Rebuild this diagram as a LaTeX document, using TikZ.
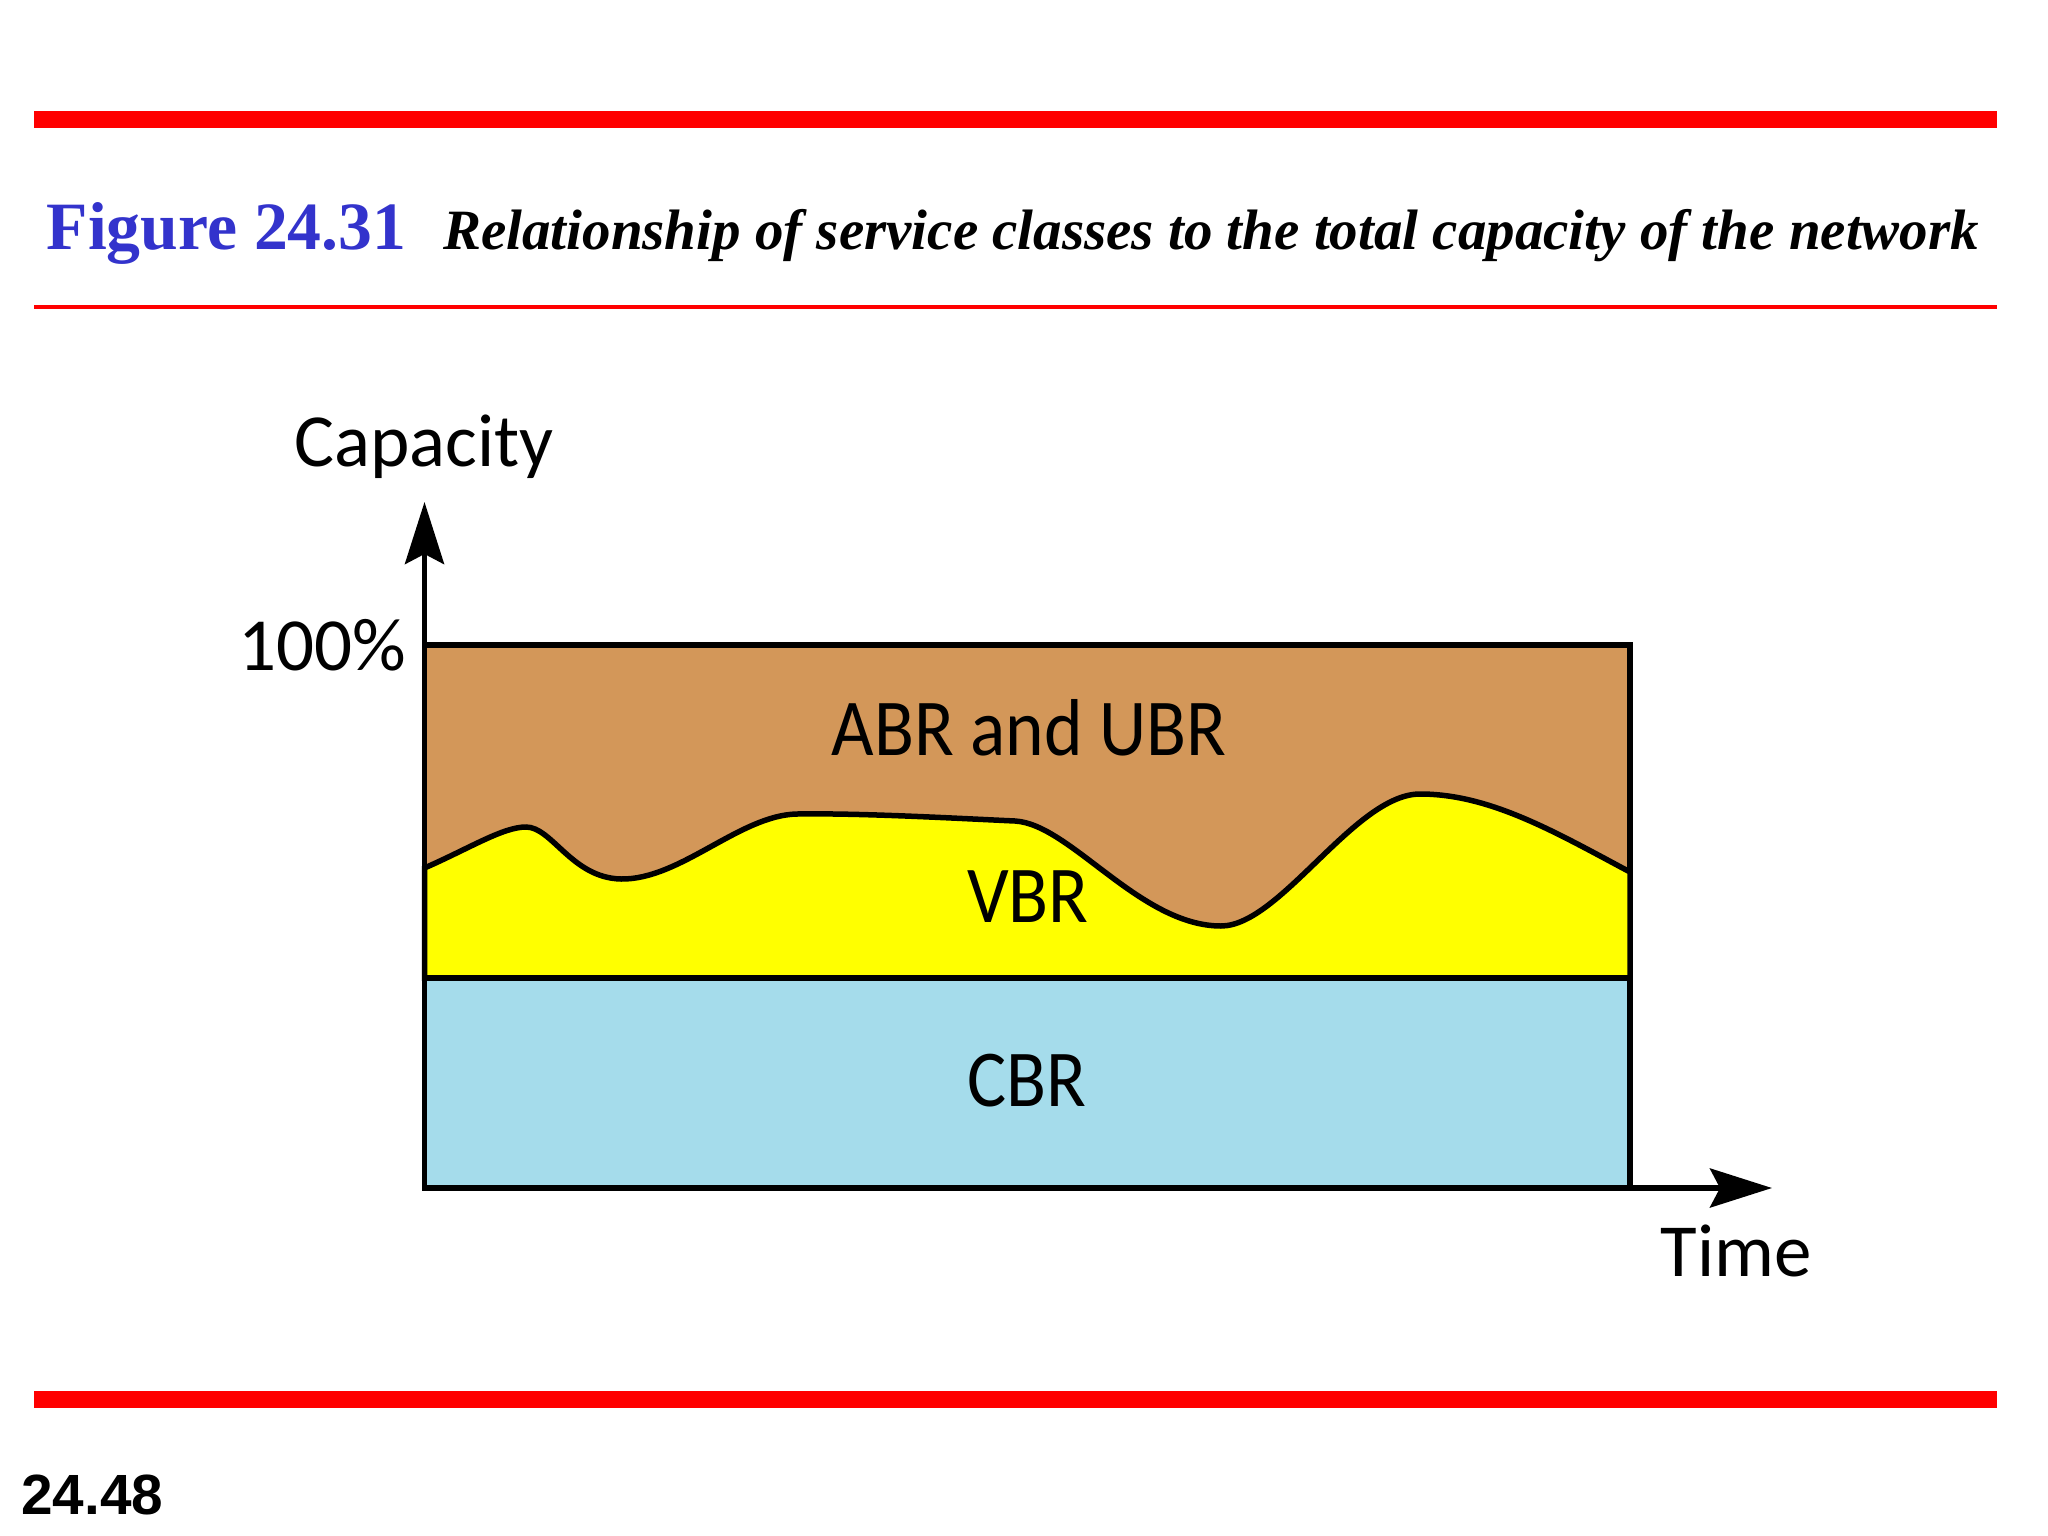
\documentclass[tikz,border=0pt]{standalone}
\usepackage{fontspec}
\setmainfont{Liberation Serif}
\newfontfamily\labelfont{Carlito}
\newfontfamily\regionfont[FakeStretch=0.91]{Carlito}
\newfontfamily\pagefont{Liberation Sans}
\usetikzlibrary{arrows.meta}
\definecolor{titleblue}{RGB}{51,51,204}
\definecolor{abrbrown}{RGB}{211,151,89}
\definecolor{vbryellow}{RGB}{255,255,0}
\definecolor{cbrblue}{RGB}{165,220,235}
\tikzset{
  rulebar/.style={fill=red, draw=none},
  region/.style={draw=black, line width=5.5pt, line join=miter},
  axisline/.style={draw=black, line width=5.5pt, -{Stealth[length=62pt, width=39pt, inset=10pt]}},
  axislabel/.style={font=\labelfont\fontsize{75}{75}\selectfont, inner sep=0pt, anchor=base},
  regionlabel/.style={font=\regionfont\fontsize{80.7}{81}\selectfont, inner sep=0pt, anchor=base},
}

\begin{document}
\begin{tikzpicture}[x=1pt, y=-1pt]

    % --- Page ---
    \useasboundingbox (0,0) rectangle (2048,1536);

    % --- Coordinates ---
    \coordinate (TL) at (424.5,645);
    \coordinate (TR) at (1630,645);
    \coordinate (ML) at (424.5,978);
    \coordinate (MR) at (1630,978);
    \coordinate (BL) at (424.5,1188);
    \coordinate (BR) at (1630,1188);
    \coordinate (ytip) at (424.5,502);
    \coordinate (xtip) at (1772,1188);

    % --- Red rules ---
    \fill[rulebar] (34,111) rectangle (1997,128);
    \fill[rulebar] (34,305) rectangle (1997,309);
    \fill[rulebar] (34,1391) rectangle (1997,1408);

    % --- Title ---
    \node[anchor=base west, inner sep=0pt, text=titleblue, font=\bfseries\fontsize{67.7}{70}\selectfont] (figno) at (46.5,249) {Figure 24.31};
    \node[anchor=base west, inner sep=0pt, font=\bfseries\itshape\fontsize{57}{60}\selectfont] (figtitle) at (443,249.5) {Relationship of service classes to the total capacity of the network};

    % --- Regions ---
    \draw[region, fill=abrbrown] (TL) rectangle (MR);
    % VBR with its wavy upper edge
    \draw[region, fill=vbryellow] (ML) -- (424.5,868) .. controls (470,848) and (503,827) .. (526,827)
        .. controls (552,827) and (572,878) .. (621,879)
        .. controls (680,880) and (740,815) .. (797,814)
        .. controls (860,813) and (950,818) .. (1015,821)
        .. controls (1070,824) and (1140,926) .. (1221,926)
        .. controls (1280,926) and (1355,794) .. (1420,794)
        .. controls (1490,794) and (1555,832) .. (1630,872) -- (MR) -- cycle;
    \draw[region, fill=cbrblue] (ML) rectangle (BR);

    % --- Axes ---
    \draw[axisline] (TL) -- (ytip);
    \draw[axisline] (BR) -- (xtip);

    % --- Labels ---
    \node[axislabel] (capacity) at (424,466) {Capacity};
    \node[axislabel] (full) at (322,670) {100\%};
    \node[axislabel] (time) at (1736,1276) {Time};
    \node[regionlabel] (abr) at (1029,755.5) {ABR and UBR};
    \node[regionlabel] (vbr) at (1028,922) {VBR};
    \node[regionlabel] (cbr) at (1027,1106) {CBR};

    % --- Page number ---
    \node[anchor=base west, inner sep=0pt, font=\pagefont\bfseries\fontsize{56.7}{60}\selectfont] (pageno) at (21,1514) {24.48};

\end{tikzpicture}
\end{document}
